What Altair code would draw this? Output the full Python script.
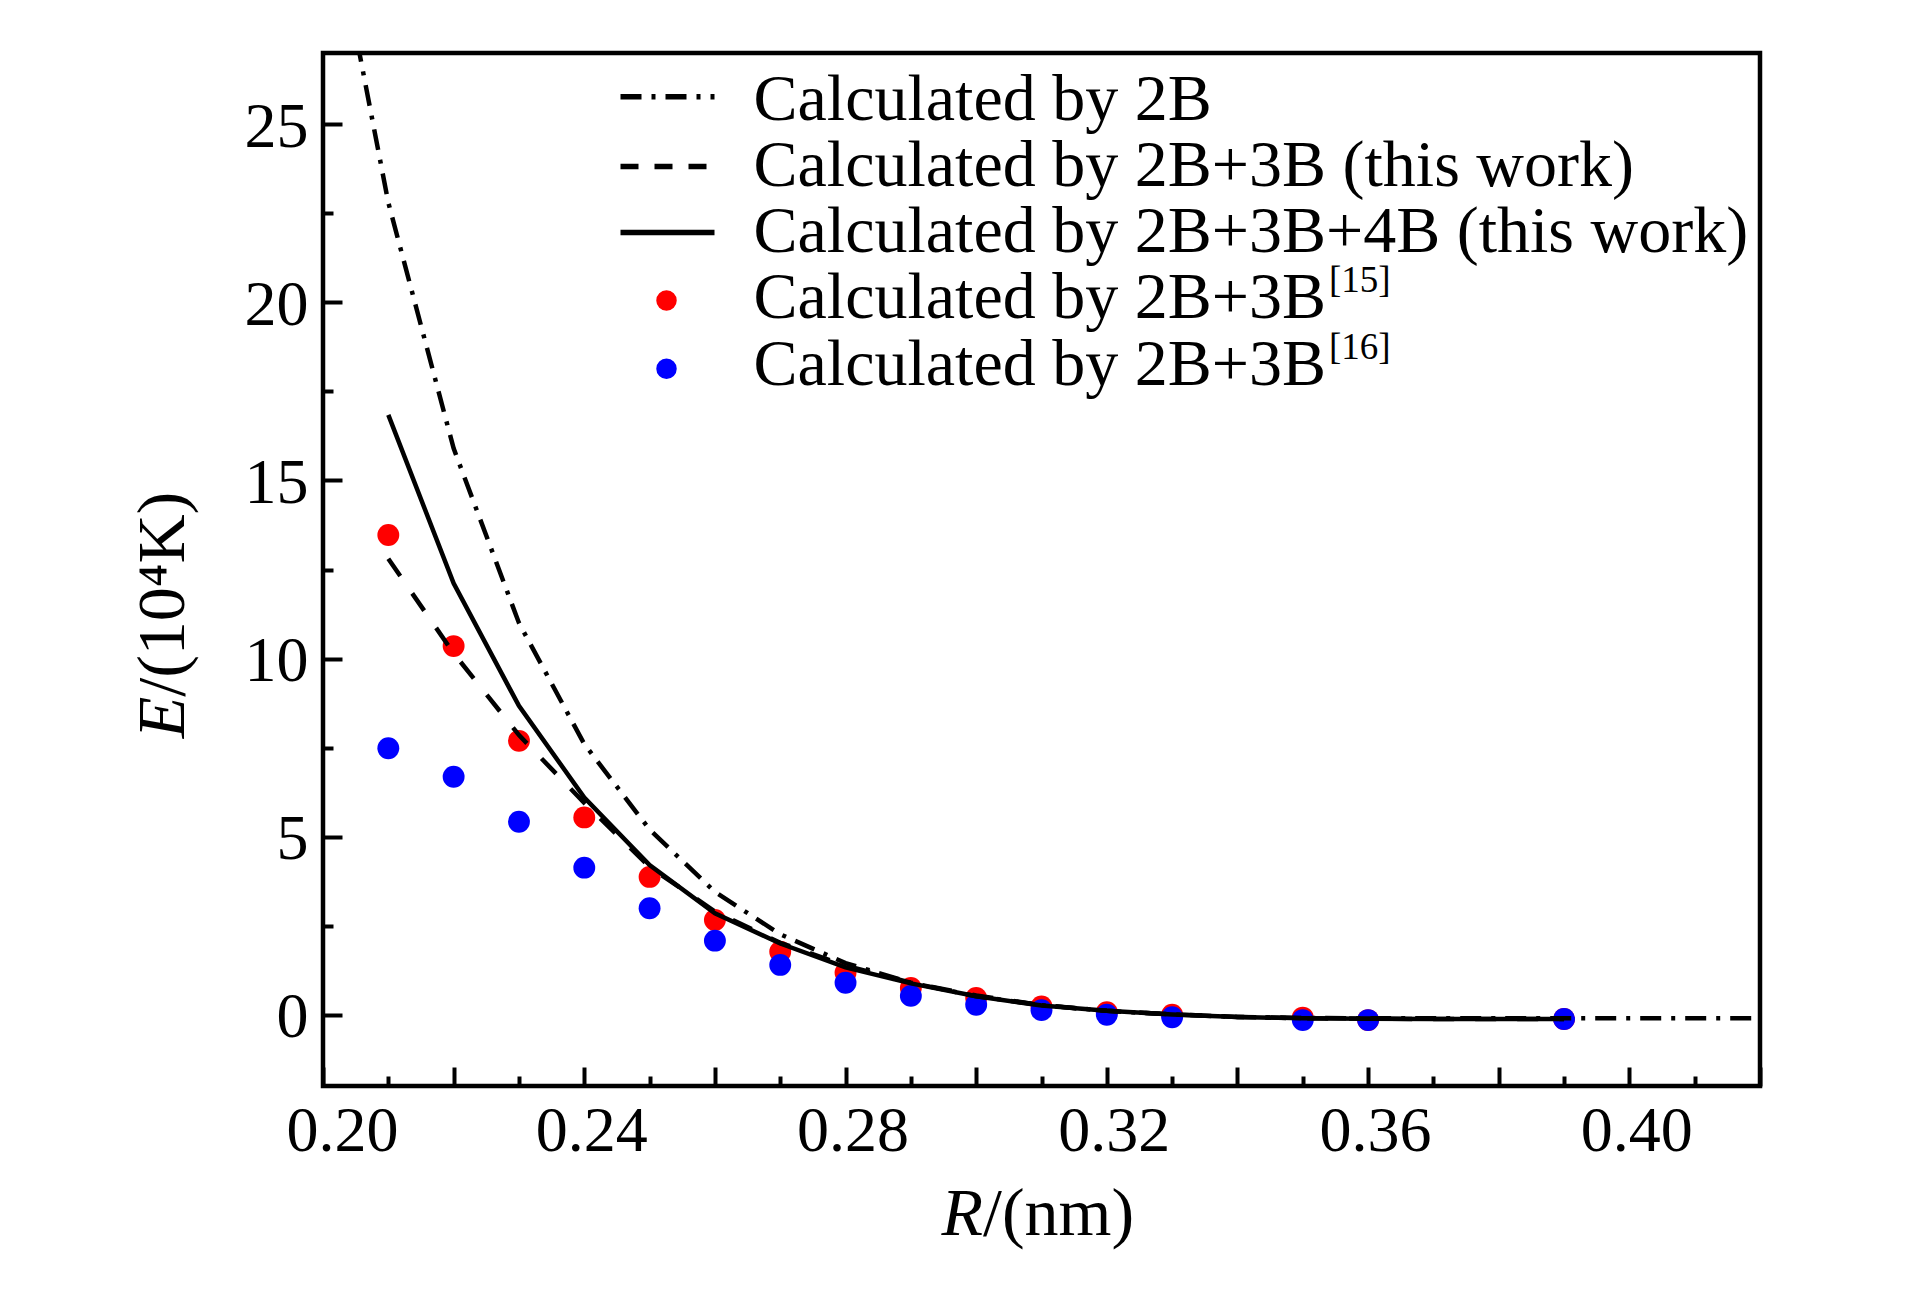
import altair as alt
import pandas as pd

# ---------------- data ----------------
R_2B = [0.20, 0.21, 0.22, 0.23, 0.24, 0.25, 0.26, 0.27, 0.28, 0.29, 0.30, 0.31,
        0.32, 0.33, 0.34, 0.35, 0.36, 0.37, 0.38, 0.39, 0.40, 0.41, 0.42]
E_2B = [32.3, 22.8, 15.9, 11.0, 7.6, 5.2, 3.45, 2.26, 1.45, 0.90, 0.52, 0.27,
        0.11, 0.01, -0.06, -0.09, -0.10, -0.10, -0.10, -0.10, -0.10, -0.10, -0.10]

R_LINE = [0.21, 0.22, 0.23, 0.24, 0.25, 0.26, 0.27, 0.28, 0.29, 0.30, 0.31,
          0.32, 0.33, 0.34, 0.35, 0.36, 0.37, 0.38, 0.39]
E_2B3B = [12.8, 10.15, 7.85, 5.95, 4.15, 2.90, 2.02, 1.38, 0.90, 0.54, 0.27,
          0.11, 0.01, -0.06, -0.10, -0.11, -0.12, -0.12, -0.12]
E_2B3B4B = [16.84, 12.11, 8.67, 6.10, 4.20, 2.85, 2.00, 1.33, 0.88, 0.52, 0.26,
            0.11, 0.01, -0.06, -0.10, -0.11, -0.12, -0.12, -0.12]

R_PTS = [0.21, 0.22, 0.23, 0.24, 0.25, 0.26, 0.27, 0.28, 0.29, 0.30, 0.31,
         0.32, 0.33, 0.35, 0.36, 0.39]
E_REF15 = [13.47, 10.35, 7.69, 5.54, 3.87, 2.66, 1.77, 1.18, 0.75, 0.47, 0.23,
           0.07, 0.00, -0.08, -0.15, -0.12]
E_REF16 = [7.48, 6.68, 5.42, 4.13, 2.99, 2.08, 1.40, 0.90, 0.53, 0.28, 0.13,
           0.00, -0.07, -0.15, -0.15, -0.12]

X_LABELS = [0.20, 0.24, 0.28, 0.32, 0.36, 0.40]
X_MAJOR = [0.20, 0.22, 0.24, 0.26, 0.28, 0.30, 0.32, 0.34, 0.36, 0.38, 0.40, 0.42]
X_MINOR = [0.21, 0.23, 0.25, 0.27, 0.29, 0.31, 0.33, 0.35, 0.37, 0.39, 0.41]
Y_MAJOR = [0, 5, 10, 15, 20, 25]
Y_MINOR = [2.5, 7.5, 12.5, 17.5, 22.5]

LEGEND_TEXT = ["Calculated by 2B",
               "Calculated by 2B+3B (this work)",
               "Calculated by 2B+3B+4B (this work)",
               "Calculated by 2B+3B",
               "Calculated by 2B+3B"]
LEGEND_SUP = ["", "", "", "[15]", "[16]"]

# ---------------- styling ----------------
FONT = "Liberation Serif"
W, H = 1437, 1033
XS = alt.Scale(domain=[0.20, 0.42], nice=False, zero=False)
YS = alt.Scale(domain=[-2, 27], nice=False, zero=False)
DASHDOT = [21, 10, 4, 10]
DASHED = [21, 21]
LW = 4.5

df_2b = pd.DataFrame({"R": R_2B, "E": E_2B})
df_3b = pd.DataFrame({"R": R_LINE, "E": E_2B3B})
df_4b = pd.DataFrame({"R": R_LINE, "E": E_2B3B4B})
df_15 = pd.DataFrame({"R": R_PTS, "E": E_REF15})
df_16 = pd.DataFrame({"R": R_PTS, "E": E_REF16})
one = pd.DataFrame({"k": [0]})

common = dict(domain=False, grid=False, title=None)

ax_x_lab = alt.Axis(orient="bottom", values=X_LABELS, format=".2f", ticks=False,
                    tickSize=0, labelFont=FONT, labelFontSize=64, labelColor="black",
                    labelPadding=13, labelFlush=False, labelOverlap=False,
                    labelBaseline="top",
                    labelOffset={"condition": {"test": "datum.value < 0.205", "value": 19},
                                 "value": 7},
                    **common)
ax_y_lab = alt.Axis(orient="left", values=Y_MAJOR, format="d", ticks=False,
                    tickSize=0, labelFont=FONT, labelFontSize=64, labelColor="black",
                    labelPadding=15, labelFlush=False, labelOverlap=False,
                    labelOffset=3, **common)
ax_x_maj = alt.Axis(orient="bottom", values=X_MAJOR, labels=False, ticks=True,
                    tickSize={"expr": "-19"}, tickWidth=4, tickColor="black", **common)
ax_y_maj = alt.Axis(orient="left", values=Y_MAJOR, labels=False, ticks=True,
                    tickSize={"expr": "-19"}, tickWidth=4, tickColor="black", **common)
ax_x_min = alt.Axis(orient="bottom", values=X_MINOR, labels=False, ticks=True,
                    tickSize={"expr": "-10"}, tickWidth=4, tickColor="black", **common)
ax_y_min = alt.Axis(orient="left", values=Y_MINOR, labels=False, ticks=True,
                    tickSize={"expr": "-10"}, tickWidth=4, tickColor="black", **common)

red = alt.Chart(df_15).mark_circle(size=479, color="#ff0000", opacity=1).encode(
    x=alt.X("R:Q", scale=XS, axis=ax_x_lab),
    y=alt.Y("E:Q", scale=YS, axis=ax_y_lab))
blue = alt.Chart(df_16).mark_circle(size=479, color="#0000ff", opacity=1).encode(
    x=alt.X("R:Q", scale=XS, axis=ax_x_maj),
    y=alt.Y("E:Q", scale=YS, axis=ax_y_maj))
line_2b = alt.Chart(df_2b).mark_line(color="black", strokeWidth=LW, strokeDash=DASHDOT,
                                     clip=True).encode(
    x=alt.X("R:Q", scale=XS, axis=ax_x_min),
    y=alt.Y("E:Q", scale=YS, axis=ax_y_min))
line_3b = alt.Chart(df_3b).mark_line(color="black", strokeWidth=LW, strokeDash=DASHED,
                                     clip=True).encode(
    x=alt.X("R:Q", scale=XS, axis=None),
    y=alt.Y("E:Q", scale=YS, axis=None))
line_4b = alt.Chart(df_4b).mark_line(color="black", strokeWidth=LW, clip=True).encode(
    x=alt.X("R:Q", scale=XS, axis=None),
    y=alt.Y("E:Q", scale=YS, axis=None))

# ---------------- legend (drawn by hand, pixel layout) ----------------
TXT_X = 430.5
BASE0, STEP = 66.7, 66.25
SYM_Y = [43.7, 113.4, 179.4, 247.4, 315.7]
SYM_X0, SYM_X1, SYM_XC = 297.5, 391.5, 343.5
SUP_X = TXT_X + 8.675 * 66 + 3

legend_layers = []
sym_styles = [("rule", DASHDOT), ("rule", [18, 16]), ("rule", None),
              ("pt", "#ff0000"), ("pt", "#0000ff")]
for i, (txt, sup) in enumerate(zip(LEGEND_TEXT, LEGEND_SUP)):
    base = BASE0 + i * STEP
    kind, sty = sym_styles[i]
    if kind == "rule":
        kw = dict(color="black", strokeWidth=5.5)
        if sty is not None:
            kw["strokeDash"] = sty
        legend_layers.append(alt.Chart(one).mark_rule(**kw).encode(
            x=alt.value(SYM_X0), x2=alt.value(SYM_X1), y=alt.value(SYM_Y[i])))
    else:
        legend_layers.append(alt.Chart(one).mark_circle(size=420, color=sty, opacity=1).encode(
            x=alt.value(SYM_XC), y=alt.value(SYM_Y[i])))
    legend_layers.append(alt.Chart(one).mark_text(
        text=txt, font=FONT, fontSize=66, align="left", baseline="alphabetic",
        color="black").encode(x=alt.value(TXT_X), y=alt.value(base)))
    if sup:
        legend_layers.append(alt.Chart(one).mark_text(
            text=sup, font=FONT, fontSize=37, align="left", baseline="alphabetic",
            color="black").encode(x=alt.value(SUP_X), y=alt.value(base - 26)))

# ---------------- axis titles ----------------
TFS = 68
title_layers = [
    alt.Chart(one).mark_text(text="R", font=FONT, fontSize=TFS, fontStyle="italic",
                             align="left", baseline="alphabetic", color="black").encode(
        x=alt.value(618.5), y=alt.value(1181.7)),
    alt.Chart(one).mark_text(text="/(nm)", font=FONT, fontSize=TFS,
                             align="left", baseline="alphabetic", color="black").encode(
        x=alt.value(618.5 + 0.611 * TFS), y=alt.value(1181.7)),
    alt.Chart(one).mark_text(text="E", font=FONT, fontSize=TFS, fontStyle="italic", angle=270,
                             align="left", baseline="alphabetic", color="black").encode(
        x=alt.value(-139.5), y=alt.value(685.3)),
    alt.Chart(one).mark_text(text="/(10\u2074K)", font=FONT, fontSize=TFS, angle=270,
                             align="left", baseline="alphabetic", color="black").encode(
        x=alt.value(-139.5), y=alt.value(685.3 - 0.611 * TFS)),
]

chart = alt.layer(red, blue, line_2b, line_3b, line_4b, *legend_layers, *title_layers).resolve_axis(
    x="independent", y="independent"
).properties(
    width=W, height=H,
    autosize=alt.AutoSizeParams(type="none"),
    padding={"left": 315, "top": 45, "right": 155, "bottom": 205},
    background="white",
).configure_view(stroke="black", strokeWidth=4.5)

chart.save("out.html", embed_options={"renderer": "svg", "actions": False})
